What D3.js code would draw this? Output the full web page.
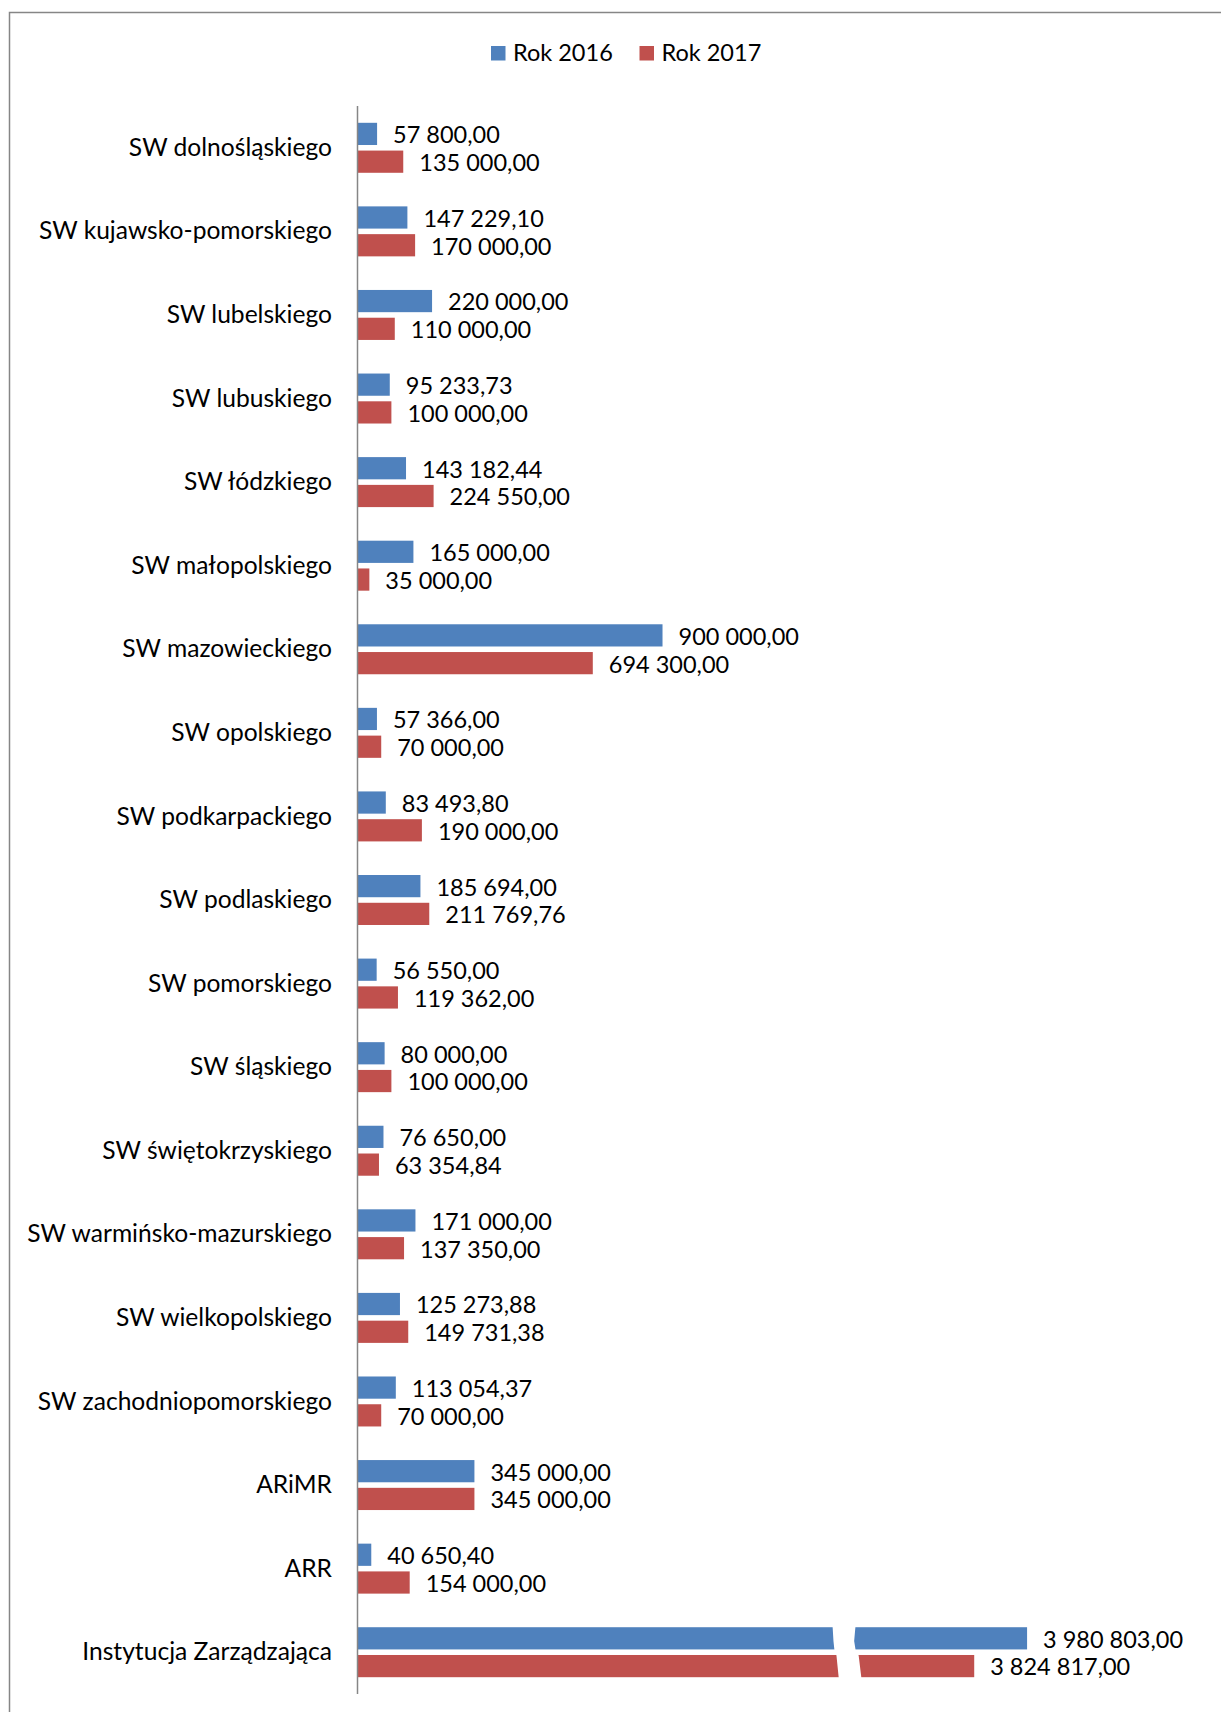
<!DOCTYPE html>
<html>
<head>
<meta charset="utf-8">
<script src="https://cdn.jsdelivr.net/npm/d3@7"></script>
<style>
  html, body { margin: 0; padding: 0; background: #fff; }
  svg { display: block; }
  text { font-family: Lato, "Open Sans", sans-serif; fill: #000; }
</style>
</head>
<body>
<svg id="chart" width="1221" height="1712"></svg>
<script>
const categories = [
  "SW dolnośląskiego", "SW kujawsko-pomorskiego", "SW lubelskiego", "SW lubuskiego",
  "SW łódzkiego", "SW małopolskiego", "SW mazowieckiego", "SW opolskiego",
  "SW podkarpackiego", "SW podlaskiego", "SW pomorskiego", "SW śląskiego",
  "SW świętokrzyskiego", "SW warmińsko-mazurskiego", "SW wielkopolskiego",
  "SW zachodniopomorskiego", "ARiMR", "ARR", "Instytucja Zarządzająca"
];
const seriesNames = ["Rok 2016", "Rok 2017"];
const rok2016 = [57800, 147229.10, 220000, 95233.73, 143182.44, 165000, 900000, 57366,
  83493.80, 185694, 56550, 80000, 76650, 171000, 125273.88, 113054.37, 345000, 40650.40, 3980803];
const rok2017 = [135000, 170000, 110000, 100000, 224550, 35000, 694300, 70000,
  190000, 211769.76, 119362, 100000, 63354.84, 137350, 149731.38, 70000, 345000, 154000, 3824817];
const axisBreak = [1400000, 3475000];
const colors = ["#4F81BD", "#C0504D"];

const svg = d3.select("#chart");
const fontSize = 23.5;
const catFontSize = 24.6;

// outer frame
svg.append("rect").attr("x", 9.5).attr("y", 12.5).attr("width", 1400).attr("height", 1900)
  .attr("fill", "none").attr("stroke", "#868686").attr("stroke-width", 1.5);

const x0 = 357.5;
const k = 0.0003389;
const x = d3.scaleLinear()
  .domain([0, axisBreak[0], axisBreak[1], 4000000])
  .range([x0, x0 + axisBreak[0] * k, x0 + axisBreak[0] * k + 23.7, x0 + axisBreak[0] * k + 23.7 + (4000000 - axisBreak[1]) * k]);

const y = d3.scaleBand().domain(categories).range([106, 1694]).paddingInner(0.402).paddingOuter(0.201);
const ySub = d3.scaleBand().domain(seriesNames).range([0, y.bandwidth()]).paddingInner(0.2);

const locale = d3.formatLocale({decimal: ",", thousands: " ", grouping: [3], currency: ["", ""]});
const fmt = locale.format(",.2f");

const rows = categories.map((c, i) => ({cat: c, vals: [rok2016[i], rok2017[i]]}));

const g = svg.selectAll("g.cat").data(rows).join("g").attr("class", "cat")
  .attr("transform", d => `translate(0,${y(d.cat)})`);

g.selectAll("rect").data(d => d.vals.map((v, j) => ({v, s: seriesNames[j], j})))
  .join("rect")
  .attr("x", x(0) + 0.5)
  .attr("y", d => ySub(d.s))
  .attr("width", d => x(d.v) - x(0) - 0.5)
  .attr("height", ySub.bandwidth())
  .attr("fill", d => colors[d.j]);

g.selectAll("text.val").data(d => d.vals.map((v, j) => ({v, s: seriesNames[j]})))
  .join("text").attr("class", "val")
  .attr("x", d => x(d.v) + 16)
  .attr("y", d => ySub(d.s) + ySub.bandwidth() / 2)
  .attr("dy", "0.4em")
  .attr("font-size", fontSize)
  .text(d => fmt(d.v));

// category labels
svg.selectAll("text.cat").data(categories).join("text").attr("class", "cat")
  .attr("x", 332).attr("y", d => y(d) + y.bandwidth() / 2)
  .attr("dy", "0.33em").attr("text-anchor", "end").attr("font-size", catFontSize)
  .text(d => d);

// axis break marker on bars exceeding the break
rows.filter(r => d3.max(r.vals) > axisBreak[1]).forEach(r => {
  const top = y(r.cat) - 3, bot = y(r.cat) + y.bandwidth() + 3, h = bot - top;
  const a = x(axisBreak[0]), b = x(axisBreak[1]);
  const pts = [
    [a + 0.5, top], [a + 1.5, top + 0.3 * h], [a + 2.5, top + 0.47 * h], [a + 4.5, top + 0.56 * h], [a + 7, bot],
    [b + 6, bot], [b + 3, top + 0.56 * h], [b, top + 0.47 * h], [b - 1.5, top + 0.3 * h], [b, top]
  ];
  svg.append("path").attr("d", d3.line().curve(d3.curveLinearClosed)(pts)).attr("fill", "#fff");
});

// vertical axis line
svg.append("line").attr("x1", x0).attr("x2", x0).attr("y1", 106).attr("y2", 1694)
  .attr("stroke", "#868686").attr("stroke-width", 1.5);

// legend
const legX = [491, 639.5];
const lg = svg.selectAll("g.leg").data(seriesNames).join("g").attr("class", "leg")
  .attr("transform", (d, i) => `translate(${legX[i]},46)`);
lg.append("rect").attr("width", 14.5).attr("height", 14.5).attr("fill", (d, i) => colors[i]);
lg.append("text").attr("x", 22).attr("y", 14.7).attr("font-size", fontSize).text(d => d);
</script>
</body>
</html>
